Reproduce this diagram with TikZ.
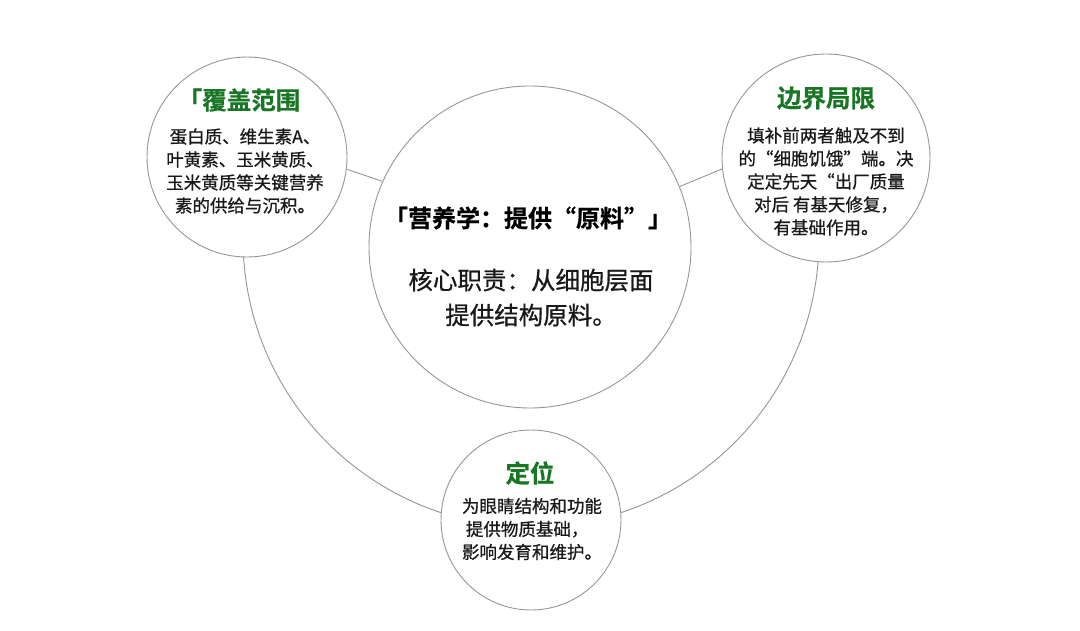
\documentclass[tikz,border=0pt]{standalone}
\usepackage{fontspec}
\setmainfont{Noto Sans CJK SC}
\newfontfamily\bodycjk[FakeBold=0.7]{Noto Sans CJK SC}
\newfontfamily\titlecjk[FakeBold=0.6]{Noto Sans CJK SC Bold}
\definecolor{ringgray}{RGB}{150,150,150}
\definecolor{titlegreen}{RGB}{24,118,36}
\definecolor{txtdark}{RGB}{25,25,25}
\begin{document}
\begin{tikzpicture}[x=1pt,y=-1pt,
  bubble/.style={circle,draw=ringgray,line width=0.9pt,fill=white,inner sep=0pt},
  conn/.style={draw=ringgray,line width=0.9pt},
  gtitle/.style={text=titlegreen,font=\titlecjk\fontsize{24.5}{28}\selectfont,inner sep=0pt},
  btext/.style={text=txtdark,font=\bodycjk\fontsize{17.5}{23}\selectfont,inner sep=0pt}]
\path[fill=white] (0,0) rectangle (1080,631);
\coordinate (arcC) at (531,239);
\draw[conn] (arcC) ++(176.8:288) arc[start angle=176.8,end angle=3.2,radius=288];
\node[bubble,minimum size=200pt] (L) at (247,157) {};
\node[bubble,minimum size=208pt] (R) at (826,158) {};
\node[bubble,minimum size=180pt] (B) at (531,520) {};
\node[bubble,minimum size=322pt] (C) at (530,247) {};
\draw[conn] (L.-7.4) -- (C.156.9);
\draw[conn] (C.22.6) -- (R.186.5);
% left
\node[gtitle] (Lt) at (239,100) {「覆盖范围};
\node[btext,align=center] (Lb) at (245,171) {蛋白质、维生素A、\\叶黄素、玉米黄质、\\玉米黄质等关键营养\\素的供给与沉积。};
% right
\node[gtitle] (Rt) at (826,98) {边界局限};
\node[btext,align=center] (Rb) at (826,181.5) {填补前两者触及不到\\的“细胞饥饿”端。决\\定定先天“出厂质量\\对后 有基天修复，\\有基础作用。};
% bottom
\node[gtitle] (Bt) at (530,473) {定位};
\node[btext,align=left] (Bb) at (532,529) {为眼睛结构和功能\\\ 提供物质基础，\\影响发育和维护。};
% center
\node[text=black,font=\titlecjk\fontsize{24}{28}\selectfont,inner sep=0pt] (Ct) at (528,218) {「营养学：提供“原料”」};
\node[text=txtdark,font=\bodycjk\fontsize{24.5}{35}\selectfont,align=center,inner sep=0pt] (Cb) at (531,297.5) {核心职责：从细胞层面\\提供结构原料。};
\end{tikzpicture}
\end{document}
